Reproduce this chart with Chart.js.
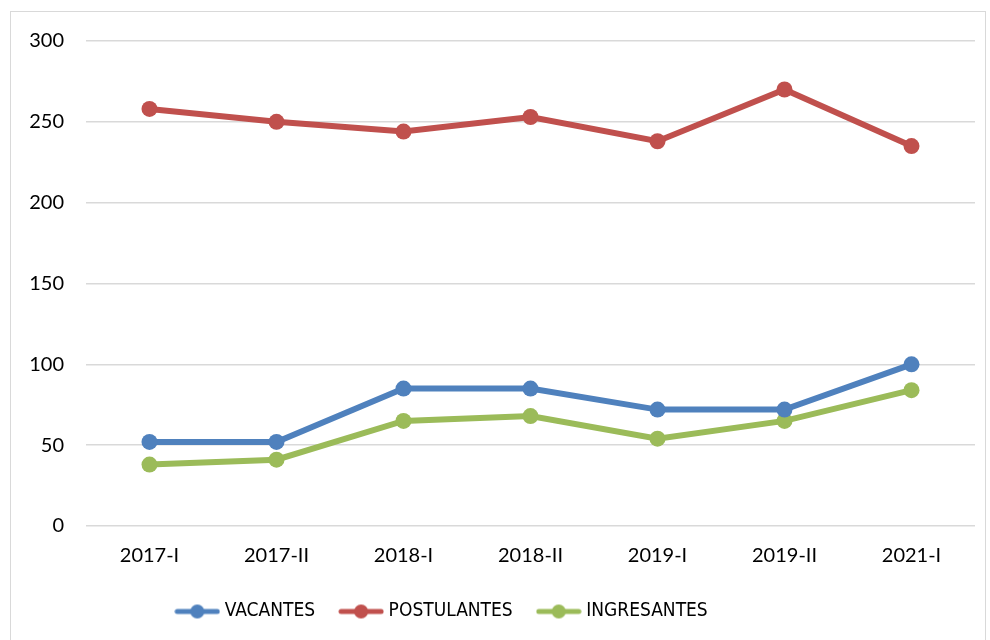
<!DOCTYPE html>
<html>
<head>
<meta charset="utf-8">
<script src="https://cdn.jsdelivr.net/npm/chart.js@4"></script>
<style>
  body { margin: 0; background: #fff; }
  #wrap { position: relative; width: 990px; height: 640px; }
  #frame { position: absolute; left: 10px; top: 11px; width: 976px; height: 640px; border: 1px solid #d9d9d9; box-sizing: border-box; }
  canvas { position: absolute; left: 0; top: 0; }
</style>
</head>
<body>
<div id="wrap">
  <div id="frame"></div>
  <canvas id="chart" width="990" height="640"></canvas>
</div>
<script>
const periods = ['2017-I', '2017-II', '2018-I', '2018-II', '2019-I', '2019-II', '2021-I'];
const vacantes = [52, 52, 85, 85, 72, 72, 100];
const postulantes = [258, 250, 244, 253, 238, 270, 235];
const ingresantes = [38, 41, 65, 68, 54, 65, 84];
const yTicks = [0, 50, 100, 150, 200, 250, 300];

const FONT = 'Lato, "Open Sans", sans-serif';
const LEGEND_FONT = '"Liberation Sans Narrow", "DejaVu Sans Condensed", Lato, sans-serif';

// little "line with a dot" symbol for the legend
function legendSymbol(color) {
    const c = document.createElement('canvas');
    c.width = 46; c.height = 16;
    const g = c.getContext('2d');
    g.strokeStyle = color;
    g.lineWidth = 5;
    g.lineCap = 'round';
    g.beginPath();
    g.moveTo(3, 8);
    g.lineTo(43, 8);
    g.stroke();
    g.fillStyle = color;
    g.beginPath();
    g.arc(23, 8, 7, 0, Math.PI * 2);
    g.fill();
    return c;
}

function makeSeries(label, data, color) {
    return {
        label: label,
        data: data,
        borderColor: color,
        backgroundColor: color,
        borderWidth: 6,
        pointRadius: 8,
        pointHoverRadius: 8,
        pointBackgroundColor: color,
        pointBorderWidth: 0,
        pointStyle: 'circle',
        tension: 0,
    };
}

// the legend in the original sits a bit left of centre
const shiftLegend = {
    id: 'shiftLegend',
    afterLayout(chart) {
        chart.legend.left -= 44;
        chart.legend.right -= 44;
    },
};

const ctx = document.getElementById('chart').getContext('2d');
new Chart(ctx, {
    type: 'line',
    data: {
        labels: periods,
        datasets: [
            makeSeries('VACANTES', vacantes, '#4F81BD'),
            makeSeries('POSTULANTES', postulantes, '#C0504D'),
            makeSeries('INGRESANTES', ingresantes, '#9BBB59'),
        ],
    },
    plugins: [shiftLegend],
    options: {
        responsive: false,
        animation: false,
        layout: { padding: { top: 41, right: 15, left: 0, bottom: 9 } },
        plugins: {
            tooltip: { enabled: false },
            legend: {
                position: 'bottom',
                labels: {
                    color: '#000',
                    font: { family: LEGEND_FONT, size: 19 },
                    usePointStyle: true,
                    pointStyleWidth: 36,
                    boxHeight: 16,
                    padding: 28,
                    generateLabels: (chart) => chart.data.datasets.map((ds, i) => ({
                        text: ds.label,
                        pointStyle: legendSymbol(ds.borderColor),
                        fillStyle: ds.borderColor,
                        strokeStyle: ds.borderColor,
                        lineWidth: 0,
                        hidden: false,
                        datasetIndex: i,
                        fontColor: '#000',
                    })),
                },
            },
        },
        scales: {
            x: {
                offset: true,
                grid: { display: false },
                border: { display: false },
                ticks: { color: '#000', font: { family: FONT, size: 20 }, padding: 10, maxRotation: 0 },
                afterFit: (scale) => { scale.height = 48; },
            },
            y: {
                min: 0,
                max: 300,
                afterBuildTicks: (scale) => { scale.ticks = yTicks.map(v => ({ value: v })); },
                grid: { color: '#d9d9d9', lineWidth: 1.5, drawTicks: false },
                border: { display: false },
                ticks: { color: '#000', font: { family: FONT, size: 20 }, padding: 22 },
                afterFit: (scale) => { scale.width = 86; },
            },
        },
    },
});
</script>
</body>
</html>
